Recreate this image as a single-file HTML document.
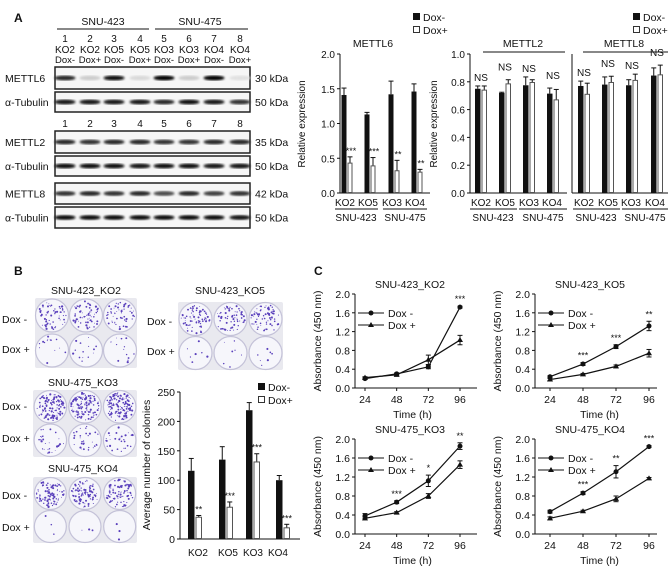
<!DOCTYPE html>
<html><head><meta charset="utf-8"><style>
body{margin:0;background:#fff;}
svg{display:block;font-family:"Liberation Sans",Arial,sans-serif;}
</style></head><body>
<svg id="fig" width="670" height="574" viewBox="0 0 670 574" xmlns="http://www.w3.org/2000/svg">
<defs>
<filter id="blur1"><feGaussianBlur stdDeviation="1.0"/></filter>
</defs>
<g id="root"></g>
</svg>
<script>
// ---- Panel A bar chart data ----
const groupsA = ["KO2","KO5","KO3","KO4"];
const m6Minus = [1.41,1.13,1.42,1.46];
const m6MinusErr = [0.10,0.03,0.19,0.11];
const m6Plus = [0.43,0.39,0.32,0.30];
const m6PlusErr = [0.09,0.12,0.15,0.04];
const m6Stars = ["***","***","**","**"];
const m6Ticks = [0,0.5,1.0,1.5,2.0];
const m2Minus = [0.75,0.72,0.775,0.715];
const m2MinusErr = [0.02,0.005,0.06,0.04];
const m2Plus = [0.74,0.785,0.795,0.67];
const m2PlusErr = [0.03,0.03,0.02,0.075];
const m8Minus = [0.77,0.78,0.775,0.845];
const m8MinusErr = [0.035,0.055,0.04,0.055];
const m8Plus = [0.71,0.795,0.81,0.85];
const m8PlusErr = [0.08,0.045,0.045,0.07];
const m28Ticks = [0,0.2,0.4,0.6,0.8,1.0];
// ---- Panel B colonies ----
const colMinus = [116,135,219,100];
const colMinusErr = [21,22,13,8];
const colPlus = [37,54,131,19];
const colPlusErr = [3,9,14,6];
const colStars = ["**","***","***","***"];
const colTicks = [0,50,100,150,200,250];
// ---- Panel C growth ----
const times = [24,48,72,96];
const absTicks = [0,0.4,0.8,1.2,1.6,2.0];
const ko2Minus=[0.2,0.3,0.45,1.72], ko2MinusErr=[0.02,0.02,0.04,0.02];
const ko2Plus=[0.22,0.28,0.6,1.02], ko2PlusErr=[0.02,0.02,0.1,0.1];
const ko2Stars=["","","","***"];
const ko5Minus=[0.24,0.51,0.88,1.32], ko5MinusErr=[0.02,0.03,0.04,0.1];
const ko5Plus=[0.18,0.29,0.46,0.74], ko5PlusErr=[0.02,0.02,0.03,0.08];
const ko5Stars=["","***","***","**"];
const ko3Minus=[0.38,0.67,1.12,1.85], ko3MinusErr=[0.05,0.03,0.12,0.07];
const ko3Plus=[0.33,0.45,0.8,1.46], ko3PlusErr=[0.03,0.02,0.05,0.08];
const ko3Stars=["","***","*","**"];
const ko4Minus=[0.47,0.86,1.31,1.84], ko4MinusErr=[0.03,0.03,0.13,0.02];
const ko4Plus=[0.33,0.48,0.74,1.17], ko4PlusErr=[0.03,0.02,0.06,0.02];
const ko4Stars=["","***","**","***"];

const NS="http://www.w3.org/2000/svg";
const root=document.getElementById('root');
function el(tag,attrs,parent,text){const e=document.createElementNS(NS,tag);for(const k in attrs)e.setAttribute(k,attrs[k]);if(text!==undefined)e.textContent=text;(parent||root).appendChild(e);return e;}
function txt(x,y,s,size,anchor,parent,name,extra){const t=el('text',Object.assign({x:x,y:y,'font-size':size||10,'text-anchor':anchor||'middle',fill:'#111'},extra||{}),parent,s);


return t;}
function line(x1,y1,x2,y2,parent,w){return el('line',{x1:x1,y1:y1,x2:x2,y2:y2,stroke:'#111','stroke-width':w||1},parent);}

// ===== Panel A western blot =====
const wb=el('g',{});


txt(14,22,"A",12,'start',wb,'panel-a-letter',{'font-weight':'bold'});
txt(103,25,"SNU-423",10.5,'middle',wb,'snu423-header');
txt(200,25,"SNU-475",10.5,'middle',wb,'snu475-header');
line(57,29,149,29,wb);line(155,29,248,29,wb);
const laneX=[65,90,114,140,164,189,214,240];
const laneKO=["KO2","KO2","KO5","KO5","KO3","KO3","KO4","KO4"];
const laneDox=["Dox-","Dox+","Dox-","Dox+","Dox-","Dox+","Dox-","Dox+"];
laneX.forEach((x,i)=>{txt(x,42,String(i+1),10,'middle',wb,'lane-number');txt(x,53,laneKO[i],10,'middle',wb,'lane-ko');txt(x,63,laneDox[i],9.5,'middle',wb,'lane-dox');});
const blots=[
 {name:"METTL6",y:67,h:22,kda:"30 kDa",int:[0.85,0.2,0.95,0.15,0.98,0.2,0.98,0.12]},
 {name:"α-Tubulin",y:92,h:20,kda:"50 kDa",int:[0.9,0.9,0.9,0.9,0.85,0.95,0.9,0.8]},
 {name:"METTL2",y:131,h:22,kda:"35 kDa",int:[0.85,0.8,0.85,0.85,0.8,0.8,0.85,0.85]},
 {name:"α-Tubulin",y:156,h:20,kda:"50 kDa",int:[0.95,0.95,0.95,0.9,0.95,0.95,0.9,0.9]},
 {name:"METTL8",y:183,h:21,kda:"42 kDa",int:[0.8,0.85,0.8,0.85,0.7,0.85,0.75,0.8]},
 {name:"α-Tubulin",y:207,h:21,kda:"50 kDa",int:[0.95,0.95,0.95,0.95,0.95,0.95,0.95,0.9]}];
blots.forEach(b=>{
 const g=el('g',{},wb);
 
 
 el('rect',{x:55,y:b.y,width:195,height:b.h,fill:'#f6f6f6',stroke:'#222','stroke-width':1.5},g);
 laneX.forEach((x,i)=>{const v=b.int[i];const g2=Math.round(255*(1-v));
  el('ellipse',{cx:x,cy:b.y+b.h/2,rx:10.5,ry:2.4,fill:`rgb(${g2},${g2},${g2})`,filter:'url(#blur1)'},g);});
 txt(5,b.y+b.h/2+4,b.name,10.5,'start',g,'blot-label');
 txt(255,b.y+b.h/2+4,b.kda,10.5,'start',g,'kda-label');
});
laneX.forEach((x,i)=>txt(x,127,String(i+1),10,'middle',wb,'lane-number-2'));

// ===== bar chart helper =====
function barChart(o){
 const g=el('g',{});
 
 
 const y=v=>o.y0-(v-o.min)/(o.max-o.min)*(o.y0-o.y1);
 line(o.ax,o.y1,o.ax,o.y0,g);line(o.ax,o.y0,o.axEnd,o.y0,g);
 if(o.showTicks){o.ticks.forEach(t=>{line(o.ax-3,y(t),o.ax,y(t),g);txt(o.ax-5,y(t)+4,o.fmt(t),o.tickSize||10,'end',g,'y-tick-label');});}
 o.centers.forEach((c,i)=>{
  const bw=o.bw;
  const bx1=c-bw-0.5,bx2=c+0.5;
  const hm=y(o.minus[i]),hp=y(o.plus[i]);
  line(bx1+bw/2,y(o.minus[i]+o.minusErr[i]),bx1+bw/2,hm,g);
  line(bx1+bw/2-2.5,y(o.minus[i]+o.minusErr[i]),bx1+bw/2+2.5,y(o.minus[i]+o.minusErr[i]),g);
  const r1=el('rect',{x:bx1,y:hm,width:bw,height:o.y0-hm,fill:'#111'},g);
  
  
  line(bx2+bw/2,y(o.plus[i]+o.plusErr[i]),bx2+bw/2,hp,g);
  line(bx2+bw/2-2.5,y(o.plus[i]+o.plusErr[i]),bx2+bw/2+2.5,y(o.plus[i]+o.plusErr[i]),g);
  const r2=el('rect',{x:bx2+0.5,y:hp,width:bw-1,height:o.y0-hp-0.5,fill:'#fff',stroke:'#555','stroke-width':1},g);
  
  
  if(o.stars){txt(bx2+bw/2+(o.starDx||0),y(o.plus[i]+o.plusErr[i])-3,o.stars[i],9,'middle',g,'significance');}
  if(o.ns){txt(c,Math.min(y(o.minus[i]+o.minusErr[i]),y(o.plus[i]+o.plusErr[i]))-5-(i%2?4:0),'NS',10,'middle',g,'ns-label');}
  txt(o.labX?o.labX[i]:c,o.labY,o.groups[i],10,'middle',g,'x-tick-label');
 });
 return g;
}
const f1=v=>v.toFixed(1);
barChart({name:'mettl6-chart',ax:340,axEnd:430,y0:193,y1:54,min:0,max:2,ticks:m6Ticks,fmt:f1,showTicks:true,centers:[347,370,394,417],labX:[345,368,392,415],bw:5,groups:groupsA,minus:m6Minus,minusErr:m6MinusErr,plus:m6Plus,plusErr:m6PlusErr,stars:m6Stars,starDx:1,labY:206});
barChart({name:'mettl2-chart',ax:470,axEnd:567,y0:193,y1:54,min:0,max:1,ticks:m28Ticks,fmt:f1,showTicks:true,centers:[481,505,529,553],labX:[481,505,529,552],bw:5.5,groups:groupsA,minus:m2Minus,minusErr:m2MinusErr,plus:m2Plus,plusErr:m2PlusErr,ns:true,labY:206});
barChart({name:'mettl8-chart',ax:572,axEnd:668,y0:193,y1:54,min:0,max:1,ticks:m28Ticks,fmt:f1,showTicks:false,centers:[584,608,632,657],labX:[584,608,631,655],bw:5.5,groups:groupsA,minus:m8Minus,minusErr:m8MinusErr,plus:m8Plus,plusErr:m8PlusErr,ns:true,labY:206});
txt(373,47,"METTL6",10.5,'middle',null,'mettl6-title');
txt(523,47,"METTL2",10.5,'middle',null,'mettl2-title');
txt(624,47,"METTL8",10.5,'middle',null,'mettl8-title');
line(483,52,565,52);line(583,52,668,52);
txt(305,124,"Relative  expression",10,'middle',null,'y-axis-title',{transform:'rotate(-90 305 124)'});
txt(437,124,"Relative expression",10,'middle',null,'y-axis-title-2',{transform:'rotate(-90 437 124)'});
[[335,378],[383,427],[470,517],[519,567],[573,620],[622,668]].forEach(p=>line(p[0],209,p[1],209));
txt(356,221,"SNU-423",10,'middle',null,'group-label');txt(405,221,"SNU-475",10,'middle',null,'group-label');
txt(493,221,"SNU-423",10,'middle',null,'group-label');txt(543,221,"SNU-475",10,'middle',null,'group-label');
txt(596,221,"SNU-423",10,'middle',null,'group-label');txt(645,221,"SNU-475",10,'middle',null,'group-label');
function legendBar(x,y,g){
 const lg=el('g',{},g);
 
 
 el('rect',{x:x,y:y-8,width:7,height:7,fill:'#111'},lg);txt(x+10,y,"Dox-",10.5,'start',lg,'legend-entry');
 el('rect',{x:x+0.5,y:y+5.5,width:6,height:6,fill:'#fff',stroke:'#333'},lg);txt(x+10,y+13,"Dox+",10.5,'start',lg,'legend-entry');
}
legendBar(413,21);legendBar(633,21);

// ===== Panel B =====
txt(14,275,"B",12,'start',null,'panel-b-letter',{'font-weight':'bold'});
let seed=7;function rnd(){seed=(seed*16807)%2147483647;return seed/2147483647;}
function plate(x,y,w,h,dens,name){
 const g=el('g',{});
 
 
 el('rect',{x:x,y:y,width:w,height:h,fill:'#e9e9ef',rx:2},g);
 const r=Math.min(w/6,h/4)-0.5;
 for(let row=0;row<2;row++)for(let c=0;c<3;c++){
  const cx=x+w/6*(2*c+1),cy=y+h/4*(2*row+1);
  el('circle',{cx:cx,cy:cy,r:r,fill:'#f6f6fb',stroke:'#c4c2d8','stroke-width':1.2},g);
  const n=dens[row];
  for(let k=0;k<n;k++){const a=rnd()*6.283,d=Math.sqrt(rnd())*(r-2);
   el('circle',{cx:cx+Math.cos(a)*d,cy:cy+Math.sin(a)*d,r:0.4+rnd()*0.7,fill:'#5a40bc'},g);}
 }
 return g;
}
txt(86,294,"SNU-423_KO2",10.5,'middle',null,'plate-title');
plate(35,298,102,70,[60,14],'plate-snu423-ko2');
txt(230,294,"SNU-423_KO5",10.5,'middle',null,'plate-title');
plate(178,302,105,68,[70,7],'plate-snu423-ko5');
txt(83,386,"SNU-475_KO3",10.5,'middle',null,'plate-title');
plate(33,390,104,67,[120,30],'plate-snu475-ko3');
txt(83,472,"SNU-475_KO4",10.5,'middle',null,'plate-title');
plate(33,477,104,66,[90,3],'plate-snu475-ko4');
[[2,323,"Dox -"],[2,353,"Dox +"],[147,325,"Dox -"],[147,355,"Dox +"],[2,410,"Dox -"],[2,442,"Dox +"],[2,499,"Dox -"],[2,531,"Dox +"]].forEach(p=>txt(p[0],p[1],p[2],10.5,'start',null,'row-label'));
barChart({name:'colonies-chart',ax:180,axEnd:300,y0:539,y1:392,min:0,max:250,ticks:colTicks,fmt:v=>String(v),showTicks:true,centers:[195,226,253,283],labX:[198,228,253,278],bw:6.5,groups:["KO2","KO5","KO3","KO4"],minus:colMinus,minusErr:colMinusErr,plus:colPlus,plusErr:colPlusErr,stars:colStars,labY:556,tickSize:10.5});
legendBar(258,391);
txt(150,465,"Average number of colonies",10.5,'middle',null,'y-axis-title-b',{transform:'rotate(-90 150 465)'});

// ===== Panel C =====
txt(314,275,"C",12,'start',null,'panel-c-letter',{'font-weight':'bold'});
function lineChart(o){
 const g=el('g',{});
 
 
 const x=t=>o.xs[0]+(t-24)/72*(o.xs[1]-o.xs[0]);
 const y=v=>o.y0-v/2*(o.y0-o.y1);
 line(o.ax,o.y1,o.ax,o.y0,g);line(o.ax,o.y0,o.ax+122,o.y0,g);
 absTicks.forEach(t=>{line(o.ax-3,y(t),o.ax,y(t),g);txt(o.ax-5,y(t)+4,t.toFixed(1),10.5,'end',g,'y-tick-label');});
 times.forEach(t=>{line(x(t),o.y0,x(t),o.y0+3,g);txt(x(t),o.y0+15,String(t),10.5,'middle',g,'x-tick-label');});
 txt((o.xs[0]+o.xs[1])/2,o.y0+30,"Time (h)",10.5,'middle',g,'x-axis-title');
 txt(o.ax-34,(o.y0+o.y1)/2,"Absorbance (450 nm)",10.5,'middle',g,'y-axis-title',{transform:`rotate(-90 ${o.ax-34} ${(o.y0+o.y1)/2})`});
 txt(o.ax+55,o.y1-6,o.title,10.5,'middle',g,'chart-title');
 [[o.minus,o.minusErr,'circle','dox-minus'],[o.plus,o.plusErr,'tri','dox-plus']].forEach(s=>{
  const pts=times.map((t,i)=>x(t)+','+y(s[0][i])).join(' ');
  const pl=el('polyline',{points:pts,fill:'none',stroke:'#111','stroke-width':1.2},g);
  
  
  times.forEach((t,i)=>{const cx=x(t),cy=y(s[0][i]),e=s[1][i];
   line(cx,y(s[0][i]+e),cx,y(s[0][i]-e),g);line(cx-2.5,y(s[0][i]+e),cx+2.5,y(s[0][i]+e),g);line(cx-2.5,y(s[0][i]-e),cx+2.5,y(s[0][i]-e),g);
   const m=s[2]==='circle'?el('circle',{cx:cx,cy:cy,r:2.5,fill:'#111'},g):el('polygon',{points:`${cx},${cy-3} ${cx-3},${cy+2} ${cx+3},${cy+2}`,fill:'#111'},g);
   
   
  });
 });
 times.forEach((t,i)=>{if(o.stars[i])txt(x(t),y(o.minus[i]+o.minusErr[i])-4,o.stars[i],9,'middle',g,'significance');});
 const lx=o.ax+3,ly=o.y1+19;
 line(lx,ly,lx+26,ly,g);el('circle',{cx:lx+13,cy:ly,r:2.5,fill:'#111'},g);txt(lx+30,ly+4,"Dox -",10.5,'start',g,'legend-entry');
 line(lx,ly+12,lx+26,ly+12,g);el('polygon',{points:`${lx+13},${ly+9} ${lx+10},${ly+14} ${lx+16},${ly+14}`,fill:'#111'},g);txt(lx+30,ly+16,"Dox +",10.5,'start',g,'legend-entry');
}
lineChart({name:'growth-snu423-ko2',ax:355,xs:[365,460],y0:388,y1:294,title:"SNU-423_KO2",minus:ko2Minus,minusErr:ko2MinusErr,plus:ko2Plus,plusErr:ko2PlusErr,stars:ko2Stars});
lineChart({name:'growth-snu423-ko5',ax:535,xs:[550,649],y0:388,y1:294,title:"SNU-423_KO5",minus:ko5Minus,minusErr:ko5MinusErr,plus:ko5Plus,plusErr:ko5PlusErr,stars:ko5Stars});
lineChart({name:'growth-snu475-ko3',ax:355,xs:[365,460],y0:534,y1:439,title:"SNU-475_KO3",minus:ko3Minus,minusErr:ko3MinusErr,plus:ko3Plus,plusErr:ko3PlusErr,stars:ko3Stars});
lineChart({name:'growth-snu475-ko4',ax:535,xs:[550,649],y0:534,y1:439,title:"SNU-475_KO4",minus:ko4Minus,minusErr:ko4MinusErr,plus:ko4Plus,plusErr:ko4PlusErr,stars:ko4Stars});
</script>
</body></html>
